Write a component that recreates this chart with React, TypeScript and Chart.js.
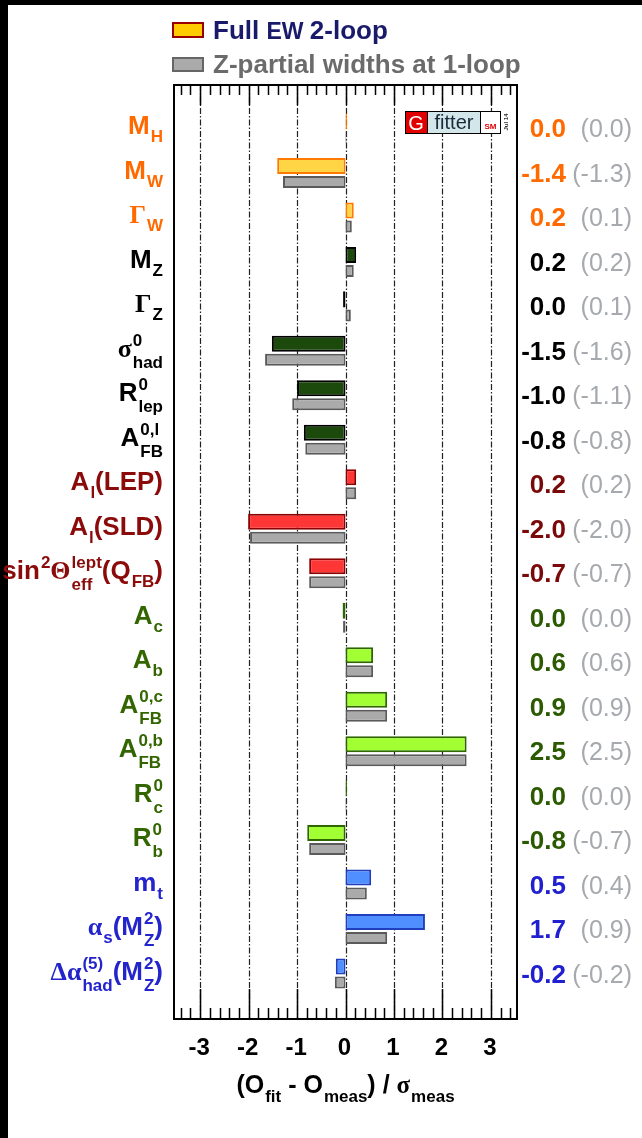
import React, { useEffect, useRef } from 'react';
import { Chart, registerables } from 'chart.js';

Chart.register(...registerables);

// ---------------- data ----------------
const parameters = [
  'M_{H}', 'M_{W}', 'Γ_{W}', 'M_{Z}', 'Γ_{Z}', 'σ^{0}_{had}', 'R^{0}_{lep}', 'A^{0,l}_{FB}',
  'A_{l}(LEP)', 'A_{l}(SLD)', 'sin^{2}Θ^{lept}_{eff}(Q_{FB})', 'A_{c}', 'A_{b}', 'A^{0,c}_{FB}',
  'A^{0,b}_{FB}', 'R^{0}_{c}', 'R^{0}_{b}', 'm_{t}', 'α_{s}(M^{2}_{Z})', 'Δα^{(5)}_{had}(M^{2}_{Z})',
];
const paramGroup = [
  'mw', 'mw', 'mw', 'z', 'z', 'z', 'z', 'z', 'lep', 'lep', 'lep',
  'hf', 'hf', 'hf', 'hf', 'hf', 'hf', 'in', 'in', 'in',
];
const fullPull = [0.03, -1.41, 0.17, 0.22, -0.05, -1.52, -1.0, -0.86, 0.22, -2.01, -0.75, -0.06, 0.57, 0.86, 2.5, 0.03, -0.79, 0.53, 1.64, -0.2];
const zPartialPull = [0.02, -1.29, 0.13, 0.17, 0.11, -1.66, -1.1, -0.83, 0.22, -1.97, -0.75, -0.05, 0.57, 0.86, 2.5, 0.02, -0.75, 0.44, 0.86, -0.22];
const fullPullText = ['0.0', '-1.4', '0.2', '0.2', '0.0', '-1.5', '-1.0', '-0.8', '0.2', '-2.0', '-0.7', '0.0', '0.6', '0.9', '2.5', '0.0', '-0.8', '0.5', '1.7', '-0.2'];
const zPartialPullText = ['0.0', '-1.3', '0.1', '0.2', '0.1', '-1.6', '-1.1', '-0.8', '0.2', '-2.0', '-0.7', '0.0', '0.6', '0.9', '2.5', '0.0', '-0.7', '0.4', '0.9', '-0.2'];
const xTicks = [-3, -2, -1, 0, 1, 2, 3];
const legendLabels = ['Full EW 2-loop', 'Z-partial widths at 1-loop'];
const xAxisTitle = '(O_{fit} - O_{meas}) / σ_{meas}';

// ---------------- styles ----------------
const groupStyle: Record<string, { label: string; value: string; fill: string; border: string }> = {
  mw: { label: '#FF6A00', value: '#FF6A00', fill: '#FFD545', border: '#FF7A00' },
  z: { label: '#000000', value: '#000000', fill: '#1C4A0C', border: '#000000' },
  lep: { label: '#8B0A0A', value: '#7A0A0A', fill: '#FF3636', border: '#8B0000' },
  hf: { label: '#336600', value: '#2B5A00', fill: '#A2FF33', border: '#2E6600' },
  in: { label: '#2424CC', value: '#2020D0', fill: '#4F8FFF', border: '#1F3FBF' },
};
const GRAY_FILL = '#AAAAAA';
const GRAY_BORDER = '#5A5A5A';
const SANS = '"Liberation Sans", Arial, Helvetica, sans-serif';
const SERIF = '"Liberation Serif", "Times New Roman", serif';

type Seg = { t?: string; sup?: string; sub?: string };
type RichStyle = { size: number; script: number; bold: boolean; supDy: number; subDy: number; stackSubDy: number };

function parseLabel(s: string): Seg[] {
  const segs: Seg[] = [];
  let buf = '';
  let i = 0;
  const readGroup = (j: number): [string, number] => {
    const end = s.indexOf('}', j);
    return [s.slice(j + 1, end), end + 1];
  };
  while (i < s.length) {
    const c = s[i];
    if ((c === '^' || c === '_') && s[i + 1] === '{') {
      if (buf) { segs.push({ t: buf }); buf = ''; }
      const seg: Seg = {};
      let [g, ni] = readGroup(i + 1);
      if (c === '^') seg.sup = g; else seg.sub = g;
      i = ni;
      const n = s[i];
      if ((n === '_' && c === '^') || (n === '^' && c === '_')) {
        [g, ni] = readGroup(i + 1);
        if (n === '^') seg.sup = g; else seg.sub = g;
        i = ni;
      }
      segs.push(seg);
    } else {
      buf += c;
      i++;
    }
  }
  if (buf) segs.push({ t: buf });
  return segs;
}

const GREEK = /[\u0370-\u03FF]/;
function splitRuns(t: string) {
  const out: { s: string; g: boolean }[] = [];
  let cur = '';
  let g: boolean | null = null;
  for (const ch of Array.from(t)) {
    const isG = GREEK.test(ch);
    if (g === null || isG === g) { cur += ch; g = isG; }
    else { out.push({ s: cur, g: g as boolean }); cur = ch; g = isG; }
  }
  if (cur) out.push({ s: cur, g: !!g });
  return out;
}
function font(size: number, greek: boolean, bold: boolean) {
  return `${bold ? 'bold ' : ''}${size}px ${greek ? SERIF : SANS}`;
}

function drawRich(ctx: CanvasRenderingContext2D, segs: Seg[], x: number, y: number, st: RichStyle, color: string, align: 'left' | 'right' | 'center'): number {
  let w = 0;
  for (const seg of segs) {
    if (seg.t !== undefined) {
      for (const r of splitRuns(seg.t)) { ctx.font = font(st.size, r.g, st.bold); w += ctx.measureText(r.s).width; }
    } else {
      ctx.font = font(st.script, false, st.bold);
      const a = seg.sup ? ctx.measureText(seg.sup).width : 0;
      const b = seg.sub ? ctx.measureText(seg.sub).width : 0;
      w += Math.max(a, b) + 1;
    }
  }
  let cx = align === 'right' ? x - w : align === 'center' ? x - w / 2 : x;
  ctx.fillStyle = color;
  ctx.textAlign = 'left';
  ctx.textBaseline = 'alphabetic';
  for (const seg of segs) {
    if (seg.t !== undefined) {
      for (const r of splitRuns(seg.t)) {
        ctx.font = font(st.size, r.g, st.bold);
        ctx.fillText(r.s, cx, y);
        cx += ctx.measureText(r.s).width;
      }
    } else {
      ctx.font = font(st.script, false, st.bold);
      const stacked = !!(seg.sup && seg.sub);
      let a = 0, b = 0;
      if (seg.sup) { ctx.fillText(seg.sup, cx + 1, y + st.supDy); a = ctx.measureText(seg.sup).width; }
      if (seg.sub) { ctx.fillText(seg.sub, cx + 1, y + (stacked ? st.stackSubDy : st.subDy)); b = ctx.measureText(seg.sub).width; }
      cx += Math.max(a, b) + 1;
    }
  }
  return w;
}

const labelStyle: RichStyle = { size: 26, script: 17, bold: true, supDy: -11, subDy: 8, stackSubDy: 11 };
const titleStyle: RichStyle = { size: 25, script: 17, bold: true, supDy: -10, subDy: 9, stackSubDy: 9 };

const overlayPlugin = {
  id: 'gfitterOverlay',
  beforeDraw(chart: any) {
    const ctx: CanvasRenderingContext2D = chart.ctx;
    ctx.save();
    ctx.fillStyle = '#000';
    ctx.fillRect(0, 0, chart.width, chart.height);
    ctx.fillStyle = '#fff';
    ctx.fillRect(8, 5, chart.width - 8, chart.height - 5);
    ctx.restore();
  },
  beforeDatasetsDraw(chart: any) {
    const ctx: CanvasRenderingContext2D = chart.ctx;
    const { top, bottom } = chart.chartArea;
    const xs = chart.scales.x;
    ctx.save();
    ctx.strokeStyle = '#222';
    ctx.lineWidth = 1.2;
    ctx.setLineDash([6, 2, 1.5, 2]);
    for (const v of xTicks) {
      const px = Math.round(xs.getPixelForValue(v)) + 0.5;
      ctx.beginPath();
      ctx.moveTo(px, top);
      ctx.lineTo(px, bottom);
      ctx.stroke();
    }
    ctx.restore();
  },
  afterDatasetsDraw(chart: any) {
    const ctx: CanvasRenderingContext2D = chart.ctx;
    const { left, right, top, bottom } = chart.chartArea;
    const xs = chart.scales.x;
    const ys = chart.scales.y;
    ctx.save();

    // frame
    ctx.strokeStyle = '#000';
    ctx.lineWidth = 2;
    ctx.strokeRect(left, top, right - left, bottom - top);

    // ticks (inward, top and bottom)
    ctx.lineWidth = 1.5;
    for (let k = -40; k <= 40; k++) {
      const v = k / 5;
      if (v <= xs.min || v >= xs.max) continue;
      const major = k % 5 === 0;
      const px = Math.round(xs.getPixelForValue(v)) + 0.5;
      ctx.beginPath();
      ctx.moveTo(px, top);
      ctx.lineTo(px, top + (major ? 20 : 10));
      ctx.moveTo(px, bottom);
      ctx.lineTo(px, bottom - (major ? 30 : 11));
      ctx.stroke();
    }

    // tick labels
    ctx.fillStyle = '#000';
    ctx.font = font(24, false, true);
    ctx.textAlign = 'center';
    ctx.textBaseline = 'alphabetic';
    for (const v of xTicks) ctx.fillText(String(v), xs.getPixelForValue(v) - 1, bottom + 36);

    // axis title
    drawRich(ctx, parseLabel(xAxisTitle), (left + right) / 2, bottom + 74, titleStyle, '#000', 'center');

    // parameter labels and values
    parameters.forEach((p, i) => {
      const cy = ys.getPixelForValue(i + 1);
      const gs = groupStyle[paramGroup[i]];
      drawRich(ctx, parseLabel(p), left - 11, cy + 5, labelStyle, gs.label, 'right');
      ctx.textAlign = 'right';
      ctx.textBaseline = 'alphabetic';
      ctx.font = font(26, false, true);
      ctx.fillStyle = gs.value;
      ctx.fillText(fullPullText[i], right + 49, cy + 8);
      ctx.font = font(25, false, false);
      ctx.fillStyle = '#A6A9AD';
      ctx.fillText(`(${zPartialPullText[i]})`, right + 115, cy + 8);
    });

    // legend
    const lx = left - 1;
    ctx.lineWidth = 2;
    ctx.fillStyle = '#FFCC00';
    ctx.strokeStyle = '#990000';
    ctx.fillRect(lx, 23, 30, 14);
    ctx.strokeRect(lx, 23, 30, 14);
    ctx.fillStyle = GRAY_FILL;
    ctx.strokeStyle = '#666';
    ctx.fillRect(lx, 58, 30, 13);
    ctx.strokeRect(lx, 58, 30, 13);
    ctx.textAlign = 'left';
    ctx.fillStyle = '#1A1A6B';
    const parts = legendLabels[0].split(' ');
    let tx = lx + 40;
    parts.forEach((w, k) => {
      const small = w === 'EW';
      ctx.font = font(small ? 23 : 26, false, true);
      const s = k < parts.length - 1 ? w + ' ' : w;
      ctx.fillText(s, tx, 39);
      tx += ctx.measureText(s).width;
    });
    ctx.fillStyle = '#6B6B6B';
    ctx.font = font(26, false, true);
    ctx.fillText(legendLabels[1], lx + 40, 73);

    // Gfitter logo
    const gx = right - 112, gy = top + 26, gh = 22;
    ctx.lineWidth = 1;
    ctx.fillStyle = '#E00000';
    ctx.fillRect(gx, gy, 22, gh);
    ctx.fillStyle = '#D3E6EA';
    ctx.fillRect(gx + 23, gy, 52, gh);
    ctx.fillStyle = '#fff';
    ctx.fillRect(gx + 76, gy, 19, gh);
    ctx.strokeStyle = '#000';
    ctx.strokeRect(gx + 0.5, gy + 0.5, 95, gh);
    ctx.beginPath();
    ctx.moveTo(gx + 22.5, gy); ctx.lineTo(gx + 22.5, gy + gh);
    ctx.moveTo(gx + 75.5, gy); ctx.lineTo(gx + 75.5, gy + gh);
    ctx.stroke();
    ctx.fillStyle = '#fff';
    ctx.font = font(20, false, false);
    ctx.textAlign = 'center';
    ctx.fillText('G', gx + 11, gy + 19);
    ctx.fillStyle = '#1A2A3A';
    ctx.fillText('fitter', gx + 49, gy + 18);
    ctx.fillStyle = '#E00000';
    ctx.font = font(8, false, true);
    ctx.fillText('SM', gx + 85.5, gy + 18);
    ctx.save();
    ctx.translate(gx + 103, gy + 11);
    ctx.rotate(-Math.PI / 2);
    ctx.fillStyle = '#333';
    ctx.font = font(6, false, true);
    ctx.fillText('Jul 14', 0, 0);
    ctx.restore();

    ctx.restore();
  },
};

export default function App() {
  const canvasRef = useRef<HTMLCanvasElement | null>(null);

  useEffect(() => {
    const canvas = canvasRef.current;
    if (!canvas) return;
    const chart = new Chart(canvas, {
      type: 'bar',
      data: {
        datasets: [
          {
            label: legendLabels[0],
            data: fullPull.map((v, i) => ({ x: v, y: i + 1 })),
            backgroundColor: paramGroup.map((g) => groupStyle[g].fill),
            borderColor: paramGroup.map((g) => groupStyle[g].border),
            borderWidth: 2,
            borderSkipped: false,
            categoryPercentage: 0.72,
            barPercentage: 1,
          },
          {
            label: legendLabels[1],
            data: zPartialPull.map((v, i) => ({ x: v, y: i + 1 })),
            backgroundColor: GRAY_FILL,
            borderColor: GRAY_BORDER,
            borderWidth: 2,
            borderSkipped: false,
            categoryPercentage: 0.72,
            barPercentage: 0.75,
          },
        ] as any,
      },
      options: {
        indexAxis: 'y',
        responsive: false,
        animation: false,
        layout: { padding: { left: 174, right: 125, top: 85, bottom: 119 } },
        scales: {
          x: { type: 'linear', min: -3.54, max: 3.54, display: false, offset: false },
          y: { type: 'linear', min: 0, max: 21, reverse: true, display: false, offset: false, grid: { offset: false }, ticks: { stepSize: 1 } },
        },
        plugins: { legend: { display: false }, tooltip: { enabled: false }, title: { display: false } },
      } as any,
      plugins: [overlayPlugin],
    });
    return () => chart.destroy();
  }, []);

  return (
    <div style={{ position: 'fixed', left: 0, top: 0, width: 642, height: 1138, background: '#000' }}>
      <canvas ref={canvasRef} width={642} height={1138} style={{ display: 'block', width: 642, height: 1138 }} />
    </div>
  );
}
